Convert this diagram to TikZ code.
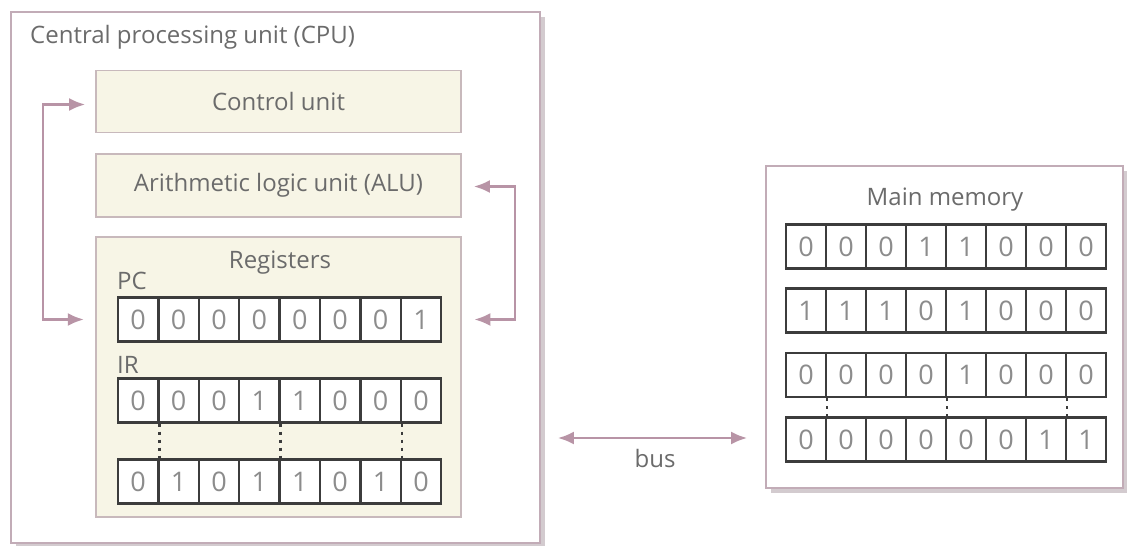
\documentclass[tikz,border=0pt]{standalone}
\usepackage{fontspec}
\setmainfont{Open Sans}
\usepackage{tikz}
\usetikzlibrary{calc,arrows.meta,shadows}
\definecolor{frame}{HTML}{C2ACB7}
\definecolor{cream}{HTML}{F7F5E6}
\definecolor{creamline}{HTML}{C8B9BC}
\definecolor{arrowc}{HTML}{B894A6}
\definecolor{txt}{HTML}{6B6B6B}
\definecolor{digit}{HTML}{8C8C8C}
\definecolor{cellline}{HTML}{3C3C3C}
\definecolor{shade}{HTML}{D3CBCF}
\tikzset{
  box/.style={draw=frame, line width=1.8pt, fill=white, inner sep=0pt,
    drop shadow={shadow xshift=5pt, shadow yshift=-5pt, fill=shade, opacity=1}},
  unit/.style={draw=creamline, fill=cream, line width=1.8pt, minimum width=365pt,
    inner sep=0pt, text=txt, font=\fontsize{24}{28}\selectfont},
  bit/.style={draw=cellline, fill=white, line width=2.3pt, minimum height=44pt,
    inner sep=0pt, text=digit, font=\fontsize{27}{27}\selectfont},
  lab/.style={text=txt, font=\fontsize{24}{28}\selectfont, inner sep=0pt},
  link/.style={draw=arrowc, line width=2.4pt,
    {Latex[length=16pt,width=13pt]}-{Latex[length=16pt,width=13pt]}},
  dots/.style={draw=cellline, line width=2.6pt, dash pattern=on 3pt off 5pt},
}
\begin{document}
\begin{tikzpicture}[x=1pt,y=-1pt]
  \useasboundingbox (0,0) rectangle (1127,546);
  \node[box, minimum width=529pt, minimum height=531pt] (cpu) at (275.5,277.5) {};
  \node[box, minimum width=357pt, minimum height=322pt] (mem) at (944.5,327) {};
  \node[lab, anchor=west] (cputitle) at (30,37) {Central processing unit (CPU)};
  \node[unit, minimum height=62pt] (ctrl) at (278.5,101.5) {Control unit};
  \node[unit, minimum height=63pt] (alu) at (278.5,185.5) {Arithmetic logic unit (ALU)};
  \node[unit, minimum height=280pt] (reg) at (278.5,377) {};
  \node[lab] (regtitle) at (280,263) {Registers};
  \node[lab, anchor=west] (pclab) at (117,281) {PC};
  \node[lab, anchor=west] (irlab) at (117,365) {IR};
  \node[lab] (memtitle) at (945,200) {Main memory};
  \foreach \R/\X/\Y/\W/\bits in {pc/118/319.5/40.4/{0,0,0,0,0,0,0,1},
      ir/118/400.5/40.4/{0,0,0,1,1,0,0,0}, rb/118/481.5/40.4/{0,1,0,1,1,0,1,0},
      ma/786/246.5/40/{0,0,0,1,1,0,0,0}, mb/786/310.5/40/{1,1,1,0,1,0,0,0},
      mc/786/375/40/{0,0,0,0,1,0,0,0}, md/786/439.5/40/{0,0,0,0,0,0,1,1}}
    \foreach \b [count=\i] in \bits
      \node[bit, minimum width=\W pt] (\R\i) at (\X+\W*\i-\W/2,\Y) {\b};
  \foreach \i in {1,4,7} {
    \draw[dots] (ir\i.south east) -- (rb\i.north east);
    \draw[dots] (mc\i.south east) -- (md\i.north east);
  }
  \coordinate (bus) at (0,438);
  \draw[link] ([xshift=-10pt,yshift=-3pt]ctrl.west) -- ++(-42,0) |- ([xshift=-33pt]pc1.west);
  \draw[link] ([xshift=12pt,yshift=-1pt]alu.east) -- ++(41,0) |- ([xshift=32pt]pc8.east);
  \draw[link] ($(cpu.east |- bus)+(17,0)$) -- ($(mem.west |- bus)+(-18,0)$);
  \node[lab] (buslab) at (655,458) {bus};
\end{tikzpicture}
\end{document}
